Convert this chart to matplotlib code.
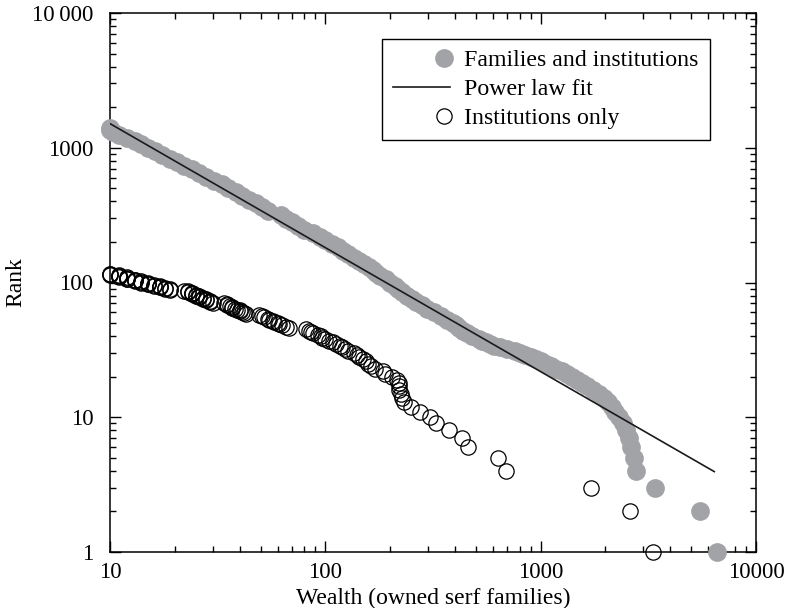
import matplotlib
matplotlib.use("Agg")
import matplotlib.pyplot as plt
import numpy as np
from matplotlib.legend_handler import HandlerLine2D
from matplotlib.ticker import LogLocator, NullFormatter

plt.rcParams['font.family'] = ['Liberation Serif', 'DejaVu Serif']
plt.rcParams['font.size'] = 17.2

# families and institutions: rank vs wealth (owned serf families)
all_rank = [1, 2, 3, 4, 5, 6, 7, 8, 9, 10, 11, 12, 13, 14, 15, 16, 17, 18, 19, 20,
            21, 22, 23, 24, 25, 26, 27, 28, 29, 30, 31, 32, 33, 34, 35, 36, 37, 38, 40, 42,
            44, 46, 48, 50, 53, 56, 60, 64, 68, 72, 76, 80, 85, 90, 95, 100, 106, 112, 118, 124,
            130, 137, 145, 153, 162, 172, 182, 193, 205, 218, 232, 247, 263, 280, 298, 318, 340, 362, 386, 412,
            440, 470, 502, 535, 570, 608, 648, 690, 735, 782, 832, 885, 940, 1000, 1060, 1120, 1185, 1250, 1320, 1360,
            1400]
all_wealth = [6560, 5480, 3380, 2770, 2700, 2640, 2580, 2500, 2400, 2300, 2220, 2150, 2060, 1960, 1870, 1750, 1650, 1560, 1470, 1400,
              1330, 1250, 1180, 1120, 1060, 1000, 950, 900, 850, 800, 760, 700, 650, 610, 580, 555, 535, 515, 480, 455,
              435, 418, 405, 390, 368, 345, 320, 298, 282, 265, 252, 240, 227, 218, 210, 200, 192, 180, 172, 166,
              160, 152, 144, 136, 128, 121, 114, 107, 100, 94, 88, 80, 75, 70, 66, 62, 54, 51, 47.5, 44,
              41, 38.5, 35.5, 33, 30.5, 28, 26, 24, 22, 20.5, 19, 17.5, 16.2, 15, 14, 13, 12, 11, 10.3, 10,
              10]

# power law fit end points
fit_wealth = [10, 6400]
fit_rank = [1510, 3.95]

# institutions only
inst_wealth = [3330, 2610, 1720, 687, 633, 459, 432, 377, 327, 307,
               274, 250, 233, 228, 224, 220, 219, 221, 215, 204,
               190, 186, 170, 163, 158, 155, 150, 143, 140, 136,
               128, 124, 120, 117, 112, 108, 104, 100, 97, 95,
               92, 88, 86, 84, 81, 68, 66, 63, 61, 60,
               58, 57, 55, 54, 52, 51, 49, 43, 42, 41,
               40, 40, 39, 38, 37, 37, 36, 35, 35, 34,
               30, 29, 29, 28, 28, 27, 27, 26, 26, 25,
               25, 24, 24, 24, 23, 23, 22, 19, 19, 18,
               18, 17, 17, 17, 16, 16, 15, 15, 15, 14,
               14, 14, 13, 13, 13, 12, 12, 12, 12, 11,
               11, 11, 11, 10, 10, 10]
inst_rank = list(range(1, len(inst_wealth) + 1))


class EndMarker(HandlerLine2D):
    # single legend marker near the right end of the handle
    def get_xdata(self, legend, xdescent, ydescent, width, height, fontsize):
        pos = -xdescent + 0.9 * width
        return np.array([pos, pos]), np.array([pos])


fig = plt.figure(figsize=(7.89, 6.08), dpi=100)
ax = fig.add_axes([110 / 789, 1 - 552 / 608, 646 / 789, 539 / 608])

p1, = ax.plot(all_wealth, all_rank, 'o', color='#a2a3a7', ms=13.5, mec='none',
              label='Families and institutions', clip_on=False, zorder=3)
p2, = ax.plot(fit_wealth, fit_rank, '-', color='#1a1a1a', lw=1.2, label='Power law fit', zorder=4)
p3, = ax.plot(inst_wealth, inst_rank, 'o', mfc='none', mec='black', ms=11, mew=0.9,
              label='Institutions only', clip_on=False, zorder=5)

ax.set_xscale('log')
ax.set_yscale('log')
ax.set_xlim(10, 10000)
ax.set_ylim(1, 10000)

ax.set_xticks([10, 100, 1000, 10000], ['10', '100', '1000', '10000'])
ax.set_yticks([1, 10, 100, 1000, 10000], ['1', '10', '100', '1000', '10\u2009000'])
ax.xaxis.set_minor_locator(LogLocator(base=10, subs=np.arange(2, 10)))
ax.yaxis.set_minor_locator(LogLocator(base=10, subs=np.arange(2, 10)))
ax.xaxis.set_minor_formatter(NullFormatter())
ax.yaxis.set_minor_formatter(NullFormatter())

ax.tick_params(which='both', direction='in', top=True, right=True, width=1, labelsize=16.5)
ax.tick_params(which='major', length=8)
ax.tick_params(which='minor', length=4)
ax.tick_params(axis='y', which='major', pad=12)
ax.tick_params(axis='x', which='major', pad=7)
for s in ax.spines.values():
    s.set_linewidth(1.1)

ax.set_xlabel('Wealth (owned serf families)', labelpad=4, fontsize=17)
ax.set_ylabel('Rank', labelpad=4, fontsize=17)

leg = ax.legend(handles=[p1, p2, p3], loc='upper left',
                bbox_to_anchor=(382 / 789, 1 - 39 / 608), bbox_transform=fig.transFigure,
                numpoints=1, handlelength=2.4, handletextpad=0.6, labelspacing=0.3,
                borderpad=0.45, borderaxespad=0, fancybox=False, framealpha=1,
                edgecolor='black', handler_map={p1: EndMarker(), p3: EndMarker()})
leg.get_frame().set_linewidth(1.0)
leg.set_zorder(6)

fig.savefig('out.png', dpi=100)
